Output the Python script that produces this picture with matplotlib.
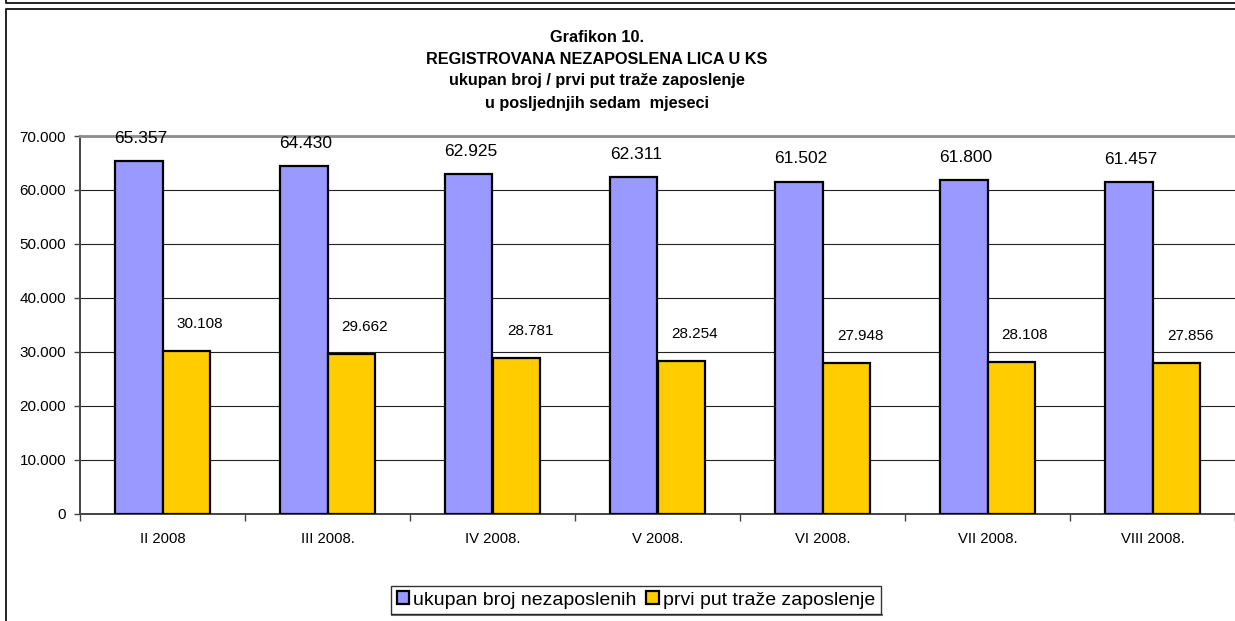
import numpy as np
import matplotlib
matplotlib.use("Agg")
import matplotlib.pyplot as plt
from matplotlib.ticker import FuncFormatter, FixedLocator
from matplotlib.lines import Line2D

plt.rcParams['font.family'] = ['Liberation Sans', 'DejaVu Sans']

# data
months = ["II 2008", "III 2008.", "IV 2008.", "V 2008.", "VI 2008.", "VII 2008.", "VIII 2008."]
ukupno = [65357, 64430, 62925, 62311, 61502, 61800, 61457]
prvi_put = [30108, 29662, 28781, 28254, 27948, 28108, 27856]
series_names = ["ukupan broj nezaposlenih", "prvi put traže zaposlenje"]
title_lines = ["Grafikon 10.",
               "REGISTROVANA NEZAPOSLENA LICA U KS",
               "ukupan broj / prvi put traže zaposlenje",
               "u posljednjih sedam  mjeseci"]

W, H = 1235, 621
fig = plt.figure(figsize=(W / 100, H / 100), dpi=100)
ax = fig.add_axes([80 / W, 1 - 513.7 / H, 1 - 80 / W, (513.7 - 136) / H])

x = np.arange(len(months))
bw = 0.285
fmt = lambda v: f"{int(v):,}".replace(",", ".")

b1 = ax.bar(x - bw / 2, ukupno, bw, color="#9999FF", edgecolor="black", linewidth=1.6,
            label=series_names[0], zorder=3)
b2 = ax.bar(x + bw / 2, prvi_put, bw, color="#FFCC00", edgecolor="black", linewidth=1.6,
            label=series_names[1], zorder=3)

for xi, v in zip(x - bw / 2, ukupno):
    ax.annotate(fmt(v), (xi, v), xytext=(2, 23), textcoords="offset pixels",
                ha="center", va="center", fontsize=12.5)
for xi, v in zip(x + bw / 2, prvi_put):
    ax.annotate(fmt(v), (xi, v), xytext=(14, 27), textcoords="offset pixels",
                ha="center", va="center", fontsize=11)

ax.set_xlim(-0.5, len(months) - 0.5)
ax.set_ylim(0, 70000)
ax.set_yticks(np.arange(0, 70001, 10000))
ax.yaxis.set_major_formatter(FuncFormatter(lambda v, p: fmt(v)))
ax.set_xticks(x)
ax.set_xticklabels(months)
ax.xaxis.set_minor_locator(FixedLocator(np.arange(-0.5, len(months), 1.0)))
ax.tick_params(axis="x", which="major", length=0, pad=13, labelsize=10.7)
ax.tick_params(axis="x", which="minor", length=5, width=1, color="#444444", direction="out")
ax.tick_params(axis="y", length=4, width=1, color="#444444", pad=6, labelsize=11)

ax.grid(axis="y", color="#222222", linewidth=0.8, zorder=0)
for s in ["left", "bottom"]:
    ax.spines[s].set_color("#444444")
    ax.spines[s].set_linewidth(1.4)
ax.spines["top"].set_color("#8c8c8c")
ax.spines["top"].set_linewidth(2)
ax.spines["right"].set_visible(False)

title_y = [37, 59, 81, 103.5]
for line, ty in zip(title_lines, title_y):
    fig.text(597 / W, 1 - ty / H, line, ha="center", va="center",
             fontsize=11.7, fontweight="bold")

leg = fig.legend(handles=[b1, b2], loc="center", bbox_to_anchor=(636 / W, 1 - 600 / H),
                 ncol=2, fontsize=14, frameon=True, fancybox=False, shadow=False,
                 handlelength=0.65, handleheight=0.65, handletextpad=0.2,
                 columnspacing=0.5, borderpad=0.3, borderaxespad=0)
leg.get_frame().set_edgecolor("black")
leg.get_frame().set_linewidth(1)

# page frames
def px_line(xs, ys, lw=1.4, color="#222222"):
    fig.add_artist(Line2D([v / W for v in xs], [1 - v / H for v in ys],
                          color=color, linewidth=lw, transform=fig.transFigure))

px_line([6.3, 6.3, W], [0, 3.3, 3.3])
px_line([6.3, 6.3, W], [H, 9, 9])

# thin gray shadow under the legend box
fig.canvas.draw()
bb = leg.get_frame().get_window_extent()
px_line([bb.x0 + 1, bb.x1 + 1], [H - bb.y0 + 1, H - bb.y0 + 1], lw=1.5, color="#777777")

fig.savefig("out.png", dpi=100)
